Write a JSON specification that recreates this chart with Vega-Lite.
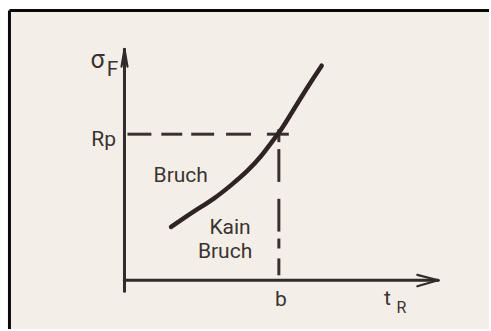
{
  "$schema": "https://vega.github.io/schema/vega-lite/v6.json",
  "width": 491,
  "height": 331,
  "autosize": {"type": "fit", "contains": "padding"},
  "padding": 0,
  "background": "#ffffff",
  "config": {"view": {"stroke": null}},
  "datasets": {
    "paper": [{"x": -4.62, "x2": 14.64, "y": -1.96, "y2": 10.86}],
    "frame": [
      {"x": -4.62, "y": -1.96, "x2": -4.62, "y2": 10.86},
      {"x": -4.62, "y": 10.86, "x2": 14.64, "y2": 10.86}
    ],
    "axes": [
      {"x": 0, "y": -0.44, "x2": 0, "y2": 9.3},
      {"x": 0, "y": 0, "x2": 12.6, "y2": 0}
    ],
    "arrows": [
      {"x": 11.76, "y": 0.22, "x2": 12.6, "y2": 0},
      {"x": 11.76, "y": -0.24, "x2": 12.6, "y2": 0},
      {"x": -0.12, "y": 8.6, "x2": 0, "y2": 9.3},
      {"x": 0.12, "y": 8.6, "x2": 0, "y2": 9.3}
    ],
    "dashes": [
      {"x": 0.12, "x2": 1.08, "y": 5.88, "y2": 5.88},
      {"x": 1.48, "x2": 2.32, "y": 5.88, "y2": 5.88},
      {"x": 2.68, "x2": 3.6, "y": 5.88, "y2": 5.88},
      {"x": 4.08, "x2": 5.08, "y": 5.88, "y2": 5.88},
      {"x": 5.72, "x2": 6.6, "y": 5.88, "y2": 5.88},
      {"x": 6.2, "x2": 6.2, "y": 6.08, "y2": 5.56},
      {"x": 6.2, "x2": 6.2, "y": 5.28, "y2": 3.96},
      {"x": 6.2, "x2": 6.2, "y": 3.28, "y2": 1.96},
      {"x": 6.2, "x2": 6.2, "y": 1.68, "y2": 1.28},
      {"x": 6.2, "x2": 6.2, "y": 0.88, "y2": 0.2}
    ],
    "curve": [
      {"x": 1.87, "y": 2.15},
      {"x": 2.4, "y": 2.51},
      {"x": 2.93, "y": 2.86},
      {"x": 3.6, "y": 3.3},
      {"x": 4.27, "y": 3.82},
      {"x": 4.93, "y": 4.4},
      {"x": 5.47, "y": 4.98},
      {"x": 5.87, "y": 5.5},
      {"x": 6.2, "y": 5.94},
      {"x": 6.53, "y": 6.44},
      {"x": 7.32, "y": 7.72},
      {"x": 7.92, "y": 8.64}
    ],
    "labels": [
      {"x": 2.26, "y": 3.96, "text": "Bruch"},
      {"x": 4.24, "y": 1.88, "text": "Kain"},
      {"x": 4.04, "y": 0.88, "text": "Bruch"},
      {"x": 6.28, "y": -1.04, "text": "b"},
      {"x": 10.56, "y": -1.0, "text": "t"},
      {"x": -0.48, "y": 8.24, "text": "F"},
      {"x": -0.84, "y": 5.4, "text": "Rp"}
    ],
    "biglabels": [
      {"x": -1.08, "y": 8.56, "text": "σ"}
    ],
    "sublabels": [
      {"x": 11.12, "y": -1.32, "text": "R"}
    ]
  },
  "layer": [
    {
      "data": {"name": "paper"},
      "mark": {"type": "rect", "color": "#f3efe8"},
      "encoding": {
        "x": {"field": "x", "type": "quantitative", "scale": {"domain": [-5, 14.64], "nice": false, "zero": false}, "axis": null},
        "x2": {"field": "x2"},
        "y": {"field": "y", "type": "quantitative", "scale": {"domain": [-1.96, 11.28], "nice": false, "zero": false}, "axis": null},
        "y2": {"field": "y2"}
      }
    },
    {
      "data": {"name": "frame"},
      "mark": {"type": "rule", "color": "#0a0a0a", "strokeWidth": 3},
      "encoding": {
        "x": {"field": "x", "type": "quantitative"},
        "x2": {"field": "x2"},
        "y": {"field": "y", "type": "quantitative"},
        "y2": {"field": "y2"}
      }
    },
    {
      "data": {"name": "axes"},
      "mark": {"type": "rule", "color": "#332b29", "strokeWidth": 3, "strokeCap": "round"},
      "encoding": {
        "x": {"field": "x", "type": "quantitative"},
        "x2": {"field": "x2"},
        "y": {"field": "y", "type": "quantitative"},
        "y2": {"field": "y2"}
      }
    },
    {
      "data": {"name": "arrows"},
      "mark": {"type": "rule", "color": "#332b29", "strokeWidth": 2.2, "strokeCap": "round"},
      "encoding": {
        "x": {"field": "x", "type": "quantitative"},
        "x2": {"field": "x2"},
        "y": {"field": "y", "type": "quantitative"},
        "y2": {"field": "y2"}
      }
    },
    {
      "data": {"name": "dashes"},
      "mark": {"type": "rule", "color": "#3a312e", "strokeWidth": 3},
      "encoding": {
        "x": {"field": "x", "type": "quantitative"},
        "x2": {"field": "x2"},
        "y": {"field": "y", "type": "quantitative"},
        "y2": {"field": "y2"}
      }
    },
    {
      "data": {"name": "curve"},
      "mark": {"type": "line", "color": "#2e2523", "strokeWidth": 4.5, "strokeCap": "round", "interpolate": "natural"},
      "encoding": {
        "x": {"field": "x", "type": "quantitative"},
        "y": {"field": "y", "type": "quantitative"}
      }
    },
    {
      "data": {"name": "labels"},
      "mark": {"type": "text", "font": "Roboto", "fontSize": 21, "color": "#3b3330", "align": "center", "baseline": "alphabetic"},
      "encoding": {
        "x": {"field": "x", "type": "quantitative"},
        "y": {"field": "y", "type": "quantitative"},
        "text": {"field": "text"}
      }
    },
    {
      "data": {"name": "biglabels"},
      "mark": {"type": "text", "font": "Roboto", "fontSize": 25, "color": "#3b3330", "align": "center", "baseline": "alphabetic"},
      "encoding": {
        "x": {"field": "x", "type": "quantitative"},
        "y": {"field": "y", "type": "quantitative"},
        "text": {"field": "text"}
      }
    },
    {
      "data": {"name": "sublabels"},
      "mark": {"type": "text", "font": "Roboto", "fontSize": 16, "color": "#3b3330", "align": "center", "baseline": "alphabetic"},
      "encoding": {
        "x": {"field": "x", "type": "quantitative"},
        "y": {"field": "y", "type": "quantitative"},
        "text": {"field": "text"}
      }
    }
  ]
}
